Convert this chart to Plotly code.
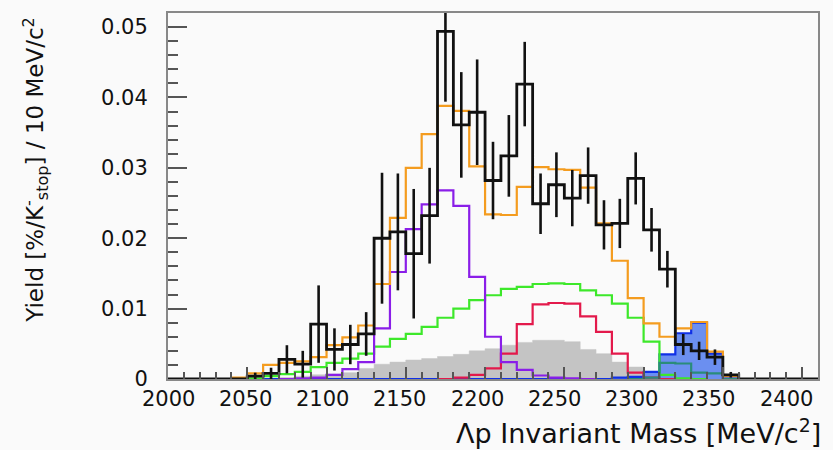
import plotly.graph_objects as go

# ---- data (bin k covers [2000+10k, 2010+10k] MeV/c^2) ----
BIN_START = 2000
BIN_WIDTH = 10
N_BINS = 41
EDGES = [BIN_START + BIN_WIDTH * k for k in range(N_BINS + 1)]
CENTERS = [e + BIN_WIDTH / 2 for e in EDGES[:-1]]

data_vals = [0, 0, 0, 0, 0, 0.0004, 0.0008, 0.0028, 0.0021, 0.0078,
             0.0042, 0.0049, 0.0064, 0.0200, 0.0209, 0.0178, 0.0232, 0.0494, 0.0361, 0.0379,
             0.0282, 0.0317, 0.0419, 0.0249, 0.0276, 0.0257, 0.0289, 0.0219, 0.0221, 0.0285,
             0.0212, 0.0156, 0.0049, 0.0040, 0.0031, 0.0006, 0, 0, 0, 0, 0]
data_errs = [0, 0, 0, 0, 0, 0.0005, 0.0008, 0.0020, 0.0019, 0.0055,
             0.0030, 0.0028, 0.0031, 0.0093, 0.0083, 0.0092, 0.0068, 0.0100, 0.0075, 0.0075,
             0.0055, 0.0058, 0.0060, 0.0043, 0.0046, 0.0040, 0.0040, 0.0035, 0.0035, 0.0037,
             0.0031, 0.0026, 0.0015, 0.0013, 0.0011, 0.0004, 0, 0, 0, 0, 0]
total_fit = [0, 0, 0, 0, 0.0002, 0.0008, 0.0020, 0.0023, 0.0025, 0.0031,
             0.0048, 0.0059, 0.0076, 0.0135, 0.0229, 0.0300, 0.0348, 0.0388, 0.0381, 0.0302,
             0.0234, 0.0233, 0.0273, 0.0301, 0.0298, 0.0297, 0.0272, 0.0221, 0.0168, 0.0115,
             0.0079, 0.0060, 0.0072, 0.0081, 0.0039, 0.0004, 0, 0, 0, 0, 0]
purple_comp = [0, 0, 0, 0, 0, 0, 0, 0, 0.0001, 0.0002,
               0.0006, 0.0014, 0.0024, 0.0072, 0.0152, 0.0213, 0.0248, 0.0268, 0.0246, 0.0145,
               0.0060, 0.0024, 0.0013, 0.0005, 0.0002, 0.0001, 0, 0, 0, 0,
               0, 0, 0, 0, 0, 0, 0, 0, 0, 0, 0]
green_comp = [0, 0, 0, 0, 0, 0.0001, 0.0004, 0.0007, 0.0010, 0.0017,
              0.0023, 0.0029, 0.0036, 0.0046, 0.0057, 0.0064, 0.0074, 0.0087, 0.0100, 0.0112,
              0.0119, 0.0128, 0.0131, 0.0135, 0.0136, 0.0135, 0.0126, 0.0119, 0.0107, 0.0087,
              0.0053, 0.0006, 0.0001, 0, 0, 0, 0, 0, 0, 0, 0]
red_comp = [0, 0, 0, 0, 0, 0, 0, 0, 0, 0,
            0, 0, 0, 0, 0, 0, 0, 0, 0.0002, 0.0006,
            0.0015, 0.0036, 0.0078, 0.0106, 0.0108, 0.0107, 0.0089, 0.0067, 0.0036, 0.0009,
            0.0002, 0, 0, 0, 0, 0, 0, 0, 0, 0, 0]
gray_comp = [0, 0, 0, 0, 0, 0, 0, 0.0002, 0.0004, 0.0006,
             0.0007, 0.0009, 0.0015, 0.0021, 0.0024, 0.0027, 0.0029, 0.0032, 0.0035, 0.0040,
             0.0043, 0.0048, 0.0052, 0.0055, 0.0055, 0.0053, 0.0042, 0.0036, 0.0024, 0.0017,
             0.0005, 0, 0, 0, 0, 0, 0, 0, 0, 0, 0]
blue_comp = [0, 0, 0, 0, 0, 0, 0, 0, 0, 0,
             0, 0, 0, 0, 0, 0, 0, 0, 0, 0,
             0, 0, 0, 0, 0, 0, 0, 0, 0.0002, 0.0003,
             0.0010, 0.0035, 0.0065, 0.0080, 0.0036, 0.0001, 0, 0, 0, 0, 0]
teal_comp = [0, 0, 0, 0, 0, 0, 0, 0, 0, 0,
             0, 0, 0, 0, 0, 0, 0, 0, 0, 0,
             0, 0, 0, 0, 0, 0, 0, 0, 0, 0,
             0.0002, 0.0023, 0.0022, 0.0009, 0.0008, 0, 0, 0, 0, 0, 0]

x_tick_vals = [2000, 2050, 2100, 2150, 2200, 2250, 2300, 2350, 2400]
x_tick_text = ["2000", "2050", "2100", "2150", "2200", "2250", "2300", "2350", "2400"]
y_tick_vals = [0, 0.01, 0.02, 0.03, 0.04, 0.05]
y_tick_text = ["0", "0.01", "0.02", "0.03", "0.04", "0.05"]


def step_xy(vals, lo=None, hi=None):
    nz = [k for k, v in enumerate(vals) if v > 0]
    if lo is None:
        lo = max(nz[0] - 1, 0)
    if hi is None:
        hi = min(nz[-1] + 1, len(vals) - 1)
    xs = [EDGES[lo]]
    ys = [0]
    for k in range(lo, hi + 1):
        xs.append(EDGES[k])
        ys.append(vals[k])
    xs.append(EDGES[hi + 1])
    ys.append(vals[hi])
    xs.append(EDGES[hi + 1])
    ys.append(0)
    return xs, ys


fig = go.Figure()

FONT = "DejaVu Sans"
TXT = "#111111"

# gray filled component
gx, gy = step_xy(gray_comp)
fig.add_trace(go.Scatter(x=gx, y=gy, mode="lines", line=dict(shape="hv", width=0.5, color="#c4c4c4"),
                         fill="tozeroy", fillcolor="#c4c4c4", hoverinfo="skip"))

# blue filled component
bx, by = step_xy(blue_comp, lo=4, hi=36)
fig.add_trace(go.Scatter(x=bx, y=by, mode="lines", line=dict(shape="hv", width=2.2, color="#1030e6"),
                         fill="tozeroy", fillcolor="#6b8ff0", hoverinfo="skip"))

for vals, col in [(red_comp, "#e3194b"), (green_comp, "#3de82a"), (purple_comp, "#8a1ee8"),
                  (teal_comp, "#2a8c7a"), (total_fit, "#f49c1f")]:
    xs, ys = step_xy(vals)
    fig.add_trace(go.Scatter(x=xs, y=ys, mode="lines", line=dict(shape="hv", width=2.2, color=col),
                             hoverinfo="skip"))

# data histogram (black) with error bars
dx, dy = step_xy(data_vals, lo=0, hi=N_BINS - 1)
fig.add_trace(go.Scatter(x=dx, y=dy, mode="lines", line=dict(shape="hv", width=2.8, color=TXT),
                         hoverinfo="skip"))
err_x = [c for c, v in zip(CENTERS, data_vals) if v > 0]
err_y = [v for v in data_vals if v > 0]
err_e = [e for e, v in zip(data_errs, data_vals) if v > 0]
fig.add_trace(go.Scatter(x=err_x, y=err_y, mode="markers", marker=dict(size=0.1, color=TXT),
                         error_y=dict(type="data", array=err_e, visible=True, width=0,
                                      thickness=2.6, color=TXT),
                         hoverinfo="skip"))

# x tick labels (placed slightly compressed, as in the reference image)
annotations = []
for v, t in zip(x_tick_vals, x_tick_text):
    annotations.append(dict(text=t, xref="x", yref="y", x=v, y=0, xanchor="center", yanchor="top",
                            xshift=-(v - x_tick_vals[0]) * 0.04, yshift=-6, showarrow=False,
                            font=dict(size=21, family=FONT, color=TXT)))
annotations.append(dict(text="Λp Invariant Mass [MeV/c<sup>2</sup>]", xref="paper", yref="paper",
                        x=1, y=-0.143, xanchor="right", yanchor="middle", xshift=5, showarrow=False,
                        font=dict(size=27, family=FONT, color=TXT)))
annotations.append(dict(text="Yield [%/K<sup>-</sup><sub>stop</sub>] / 10 MeV/c<sup>2</sup>",
                        xref="paper", yref="paper", x=-0.205, y=1, xanchor="center", yanchor="top",
                        yshift=-2, textangle=-90, showarrow=False,
                        font=dict(size=23, family=FONT, color=TXT)))

fig.update_layout(
    width=833, height=450,
    margin=dict(l=168, r=15, t=11, b=71),
    paper_bgcolor="#fafafa", plot_bgcolor="#fafafa",
    showlegend=False,
    font=dict(family=FONT, color=TXT),
    xaxis=dict(range=[2000, 2410], tickvals=x_tick_vals, showticklabels=False,
               ticks="inside", ticklen=12, tickwidth=1.5, tickcolor="#555555",
               minor=dict(dtick=10, ticks="inside", ticklen=7, tickwidth=1.5, tickcolor="#555555"),
               showline=True, linecolor="#888888", linewidth=2, mirror=True,
               showgrid=False, zeroline=False),
    yaxis=dict(range=[0, 0.052], tickvals=y_tick_vals, ticktext=y_tick_text, ticks="inside",
               ticklen=19, tickwidth=1.5, tickcolor="#555555",
               minor=dict(dtick=0.002, ticks="inside", ticklen=10, tickwidth=1.5, tickcolor="#555555"),
               showline=True, linecolor="#888888", linewidth=2, mirror=True,
               showgrid=False, zeroline=False, tickfont=dict(size=21, family=FONT, color=TXT),
               ticklabelstandoff=14),
    annotations=annotations,
)

fig.write_html("out.html")
